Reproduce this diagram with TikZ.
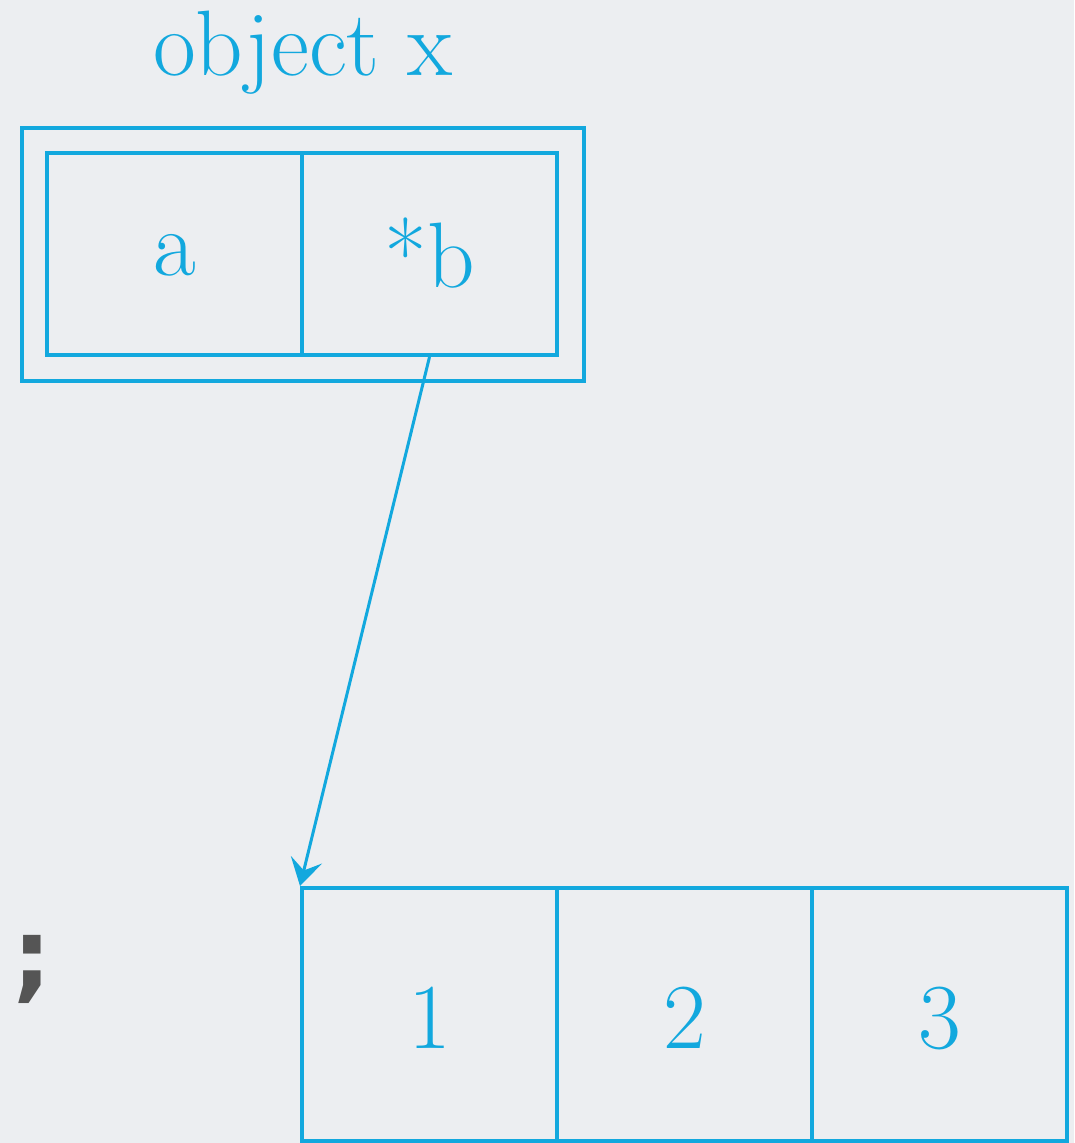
\documentclass[tikz,border=0pt]{standalone}
\usepackage{fontspec}
\newfontfamily\semifont{DejaVu Sans}
\usetikzlibrary{arrows.meta}
\definecolor{cy}{RGB}{18,168,222}
\definecolor{bgc}{RGB}{236,238,241}
\definecolor{semic}{RGB}{85,85,85}
\begin{document}
\begin{tikzpicture}[x=1pt,y=-1pt,
  box/.style={draw=cy,line width=4pt,inner sep=0pt},
  cell/.style={box,minimum width=255pt},
  lbl/.style={text=cy,font=\fontsize{93}{100}\selectfont,anchor=base,inner sep=0pt}]
\fill[bgc] (0,0) rectangle (1074,1143);
\useasboundingbox (0,0) rectangle (1074,1143);
% object x
\node[lbl] (title) at (303,75) {object x};
\node[box,minimum width=562pt,minimum height=253pt] (outer) at (303,254.5) {};
\node[cell,minimum height=202pt] (ca) at (174.5,254) {};
\node[cell,minimum height=202pt] (cb) at (429.5,254) {};
\node[lbl] (ta) at (ca.center |- 0,275) {a};
\node[lbl] (tb) at (cb.center |- 0,287) {*b};
% array
\node[cell,minimum height=253pt] (c1) at (429.5,1014.5) {};
\node[cell,minimum height=253pt] (c2) at (684.5,1014.5) {};
\node[cell,minimum height=253pt] (c3) at (939.5,1014.5) {};
\node[lbl] (t1) at (c1.center |- 0,1048) {1};
\node[lbl] (t2) at (c2.center |- 0,1048) {2};
\node[lbl] (t3) at (c3.center |- 0,1048) {3};
% semicolon
\node[text=semic,font=\semifont\bfseries\fontsize{99}{110}\selectfont,anchor=base west,inner sep=0pt] (semi) at (12,989) {;};
% pointer
\draw[cy,line width=3pt,-{Stealth[length=27pt,width=32pt,inset=11pt]}] (cb.south) -- (c1.north west);
\end{tikzpicture}
\end{document}
